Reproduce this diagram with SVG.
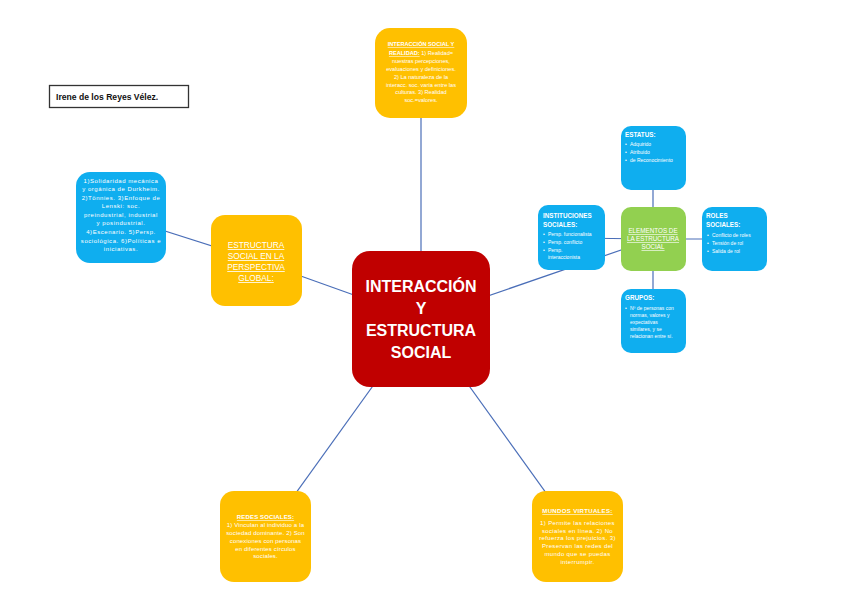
<svg xmlns="http://www.w3.org/2000/svg" width="848" height="599" viewBox="0 0 848 599">
<style>
text{font-family:"Liberation Sans",Arial,sans-serif;fill:#fff}
.c{text-anchor:middle}
.b{font-weight:bold}
.u{text-decoration:underline;fill:#fff}
.or{fill:#FFC000}
.bl{fill:#0FAEEF}
.gr{fill:#92D050}
.rd{fill:#C00000}
.t6{font-size:5.6px}
.t5{font-size:5px}
.lnk line{stroke:#4A6EB8;stroke-width:1.2}
</style>
<rect width="848" height="599" fill="#fff"/>
<g class="lnk">
<line x1="421" y1="319" x2="421" y2="73"/>
<line x1="121" y1="217" x2="256" y2="260"/>
<line x1="256" y1="260" x2="421" y2="319"/>
<line x1="421" y1="319" x2="653" y2="239"/>
<line x1="571" y1="238" x2="653" y2="239"/>
<line x1="653" y1="158" x2="653" y2="321"/>
<line x1="653" y1="239" x2="734" y2="239"/>
<line x1="421" y1="319" x2="265" y2="536"/>
<line x1="421" y1="319" x2="577" y2="536"/>
</g>
<g id="autor">
<rect x="49.5" y="85.5" width="139" height="22" fill="#fff" stroke="#333" stroke-width="1.3"/>
<text x="56" y="100" style="font-size:8.6px;fill:#111;font-weight:bold">Irene de los Reyes Vélez.</text>
</g>
<g id="centro">
<rect x="352" y="251" width="138" height="136" rx="18" class="rd"/>
<text class="c b" style="font-size:16px" x="421" y="292">INTERACCIÓN</text>
<text class="c b" style="font-size:16px" x="421" y="314">Y</text>
<text class="c b" style="font-size:16px" x="421" y="336">ESTRUCTURA</text>
<text class="c b" style="font-size:16px" x="421" y="358">SOCIAL</text>
</g>
<g id="interaccion-social">
<rect x="375" y="28" width="92" height="90" rx="15" class="or"/>
<g class="c t6">
<text x="421" y="46" class="b u">INTERACCIÓN SOCIAL Y</text>
<text x="421" y="55"><tspan class="b u">REALIDAD:</tspan> 1) Realidad=</text>
<text x="421" y="63">nuestras percepciones,</text>
<text x="421" y="71">evaluaciones y definiciones.</text>
<text x="421" y="79">2) La naturaleza de la</text>
<text x="421" y="87">interacc. soc. varía entre las</text>
<text x="421" y="94">culturas. 3) Realidad</text>
<text x="421" y="102">soc.=valores.</text>
</g>
</g>
<g id="durkheim">
<rect x="76" y="172" width="90" height="91" rx="14" class="bl"/>
<g class="c" style="font-size:6px;letter-spacing:0.55px">
<text x="121" y="183">1)Solidaridad mecánica</text>
<text x="121" y="191">y orgánica de Durkheim.</text>
<text x="121" y="200">2)Tönnies. 3)Enfoque de</text>
<text x="121" y="208">Lenski: soc.</text>
<text x="121" y="217">preindustrial, industrial</text>
<text x="121" y="225">y posindustrial.</text>
<text x="121" y="234">4)Escenario. 5)Persp.</text>
<text x="121" y="243">sociológica. 6)Políticas e</text>
<text x="121" y="251">iniciativas.</text>
</g>
</g>
<g id="estructura-global">
<rect x="211" y="215" width="91" height="91" rx="14" class="or"/>
<g class="c u" style="font-size:8.3px">
<text x="256" y="248">ESTRUCTURA</text>
<text x="256" y="259">SOCIAL EN LA</text>
<text x="256" y="270">PERSPECTIVA</text>
<text x="256" y="281">GLOBAL:</text>
</g>
</g>
<g id="instituciones">
<rect x="538" y="205" width="67" height="65" rx="10" class="bl"/>
<text x="543" y="218" class="b" style="font-size:6.3px">INSTITUCIONES</text>
<text x="543" y="227" class="b" style="font-size:6.3px">SOCIALES:</text>
<g class="t5">
<text x="543" y="236">•</text><text x="548" y="236">Persp. funcionalista</text>
<text x="543" y="244">•</text><text x="548" y="244">Persp. conflicto</text>
<text x="543" y="252">•</text><text x="548" y="252">Persp.</text>
<text x="548" y="259">interaccionista</text>
</g>
</g>
<g id="elementos">
<rect x="621" y="207" width="65" height="64" rx="10" class="gr"/>
<g class="c u" style="font-size:6.3px">
<text x="653" y="233">ELEMENTOS DE</text>
<text x="653" y="241">LA ESTRUCTURA</text>
<text x="653" y="249">SOCIAL</text>
</g>
</g>
<g id="estatus">
<rect x="621" y="126" width="65" height="64" rx="10" class="bl"/>
<text x="625" y="137" class="b" style="font-size:6.3px">ESTATUS:</text>
<g class="t5">
<text x="625" y="146">•</text><text x="630" y="146">Adquirido</text>
<text x="625" y="154">•</text><text x="630" y="154">Atribuido</text>
<text x="625" y="162">•</text><text x="630" y="162">de Reconocimiento</text>
</g>
</g>
<g id="roles">
<rect x="702" y="207" width="65" height="64" rx="10" class="bl"/>
<text x="706" y="218" class="b" style="font-size:6.3px">ROLES</text>
<text x="706" y="227" class="b" style="font-size:6.3px">SOCIALES:</text>
<g class="t5">
<text x="707" y="237">•</text><text x="712" y="237">Conflicto de roles</text>
<text x="707" y="245">•</text><text x="712" y="245">Tensión de rol</text>
<text x="707" y="253">•</text><text x="712" y="253">Salida de rol</text>
</g>
</g>
<g id="grupos">
<rect x="621" y="289" width="65" height="64" rx="10" class="bl"/>
<text x="625" y="300" class="b" style="font-size:6.3px">GRUPOS:</text>
<g class="t5">
<text x="625" y="310">•</text><text x="630" y="310">Nº de personas con</text>
<text x="630" y="317">normas, valores y</text>
<text x="630" y="324">expectativas</text>
<text x="630" y="331">similares, y se</text>
<text x="630" y="338">relacionan entre sí.</text>
</g>
</g>
<g id="redes-sociales">
<rect x="220" y="491" width="91" height="91" rx="14" class="or"/>
<g class="c" style="font-size:6px;letter-spacing:0.15px">
<text x="265.5" y="519" class="b u">REDES SOCIALES:</text>
<text x="265.5" y="527">1) Vinculan al individuo a la</text>
<text x="265.5" y="535">sociedad dominante. 2) Son</text>
<text x="265.5" y="543">conexiones con personas</text>
<text x="265.5" y="551">en diferentes círculos</text>
<text x="265.5" y="558">sociales.</text>
</g>
</g>
<g id="mundos-virtuales">
<rect x="532" y="491" width="91" height="91" rx="14" class="or"/>
<g class="c" style="font-size:6px;letter-spacing:0.35px">
<text x="577.5" y="513" class="b u">MUNDOS VIRTUALES:</text>
<text x="577.5" y="525">1) Permite las relaciones</text>
<text x="577.5" y="533">sociales en línea. 2) No</text>
<text x="577.5" y="540">refuerza los prejuicios. 3)</text>
<text x="577.5" y="548">Preservan las redes del</text>
<text x="577.5" y="556">mundo que se puedas</text>
<text x="577.5" y="564">interrumpir.</text>
</g>
</g>
</svg>
